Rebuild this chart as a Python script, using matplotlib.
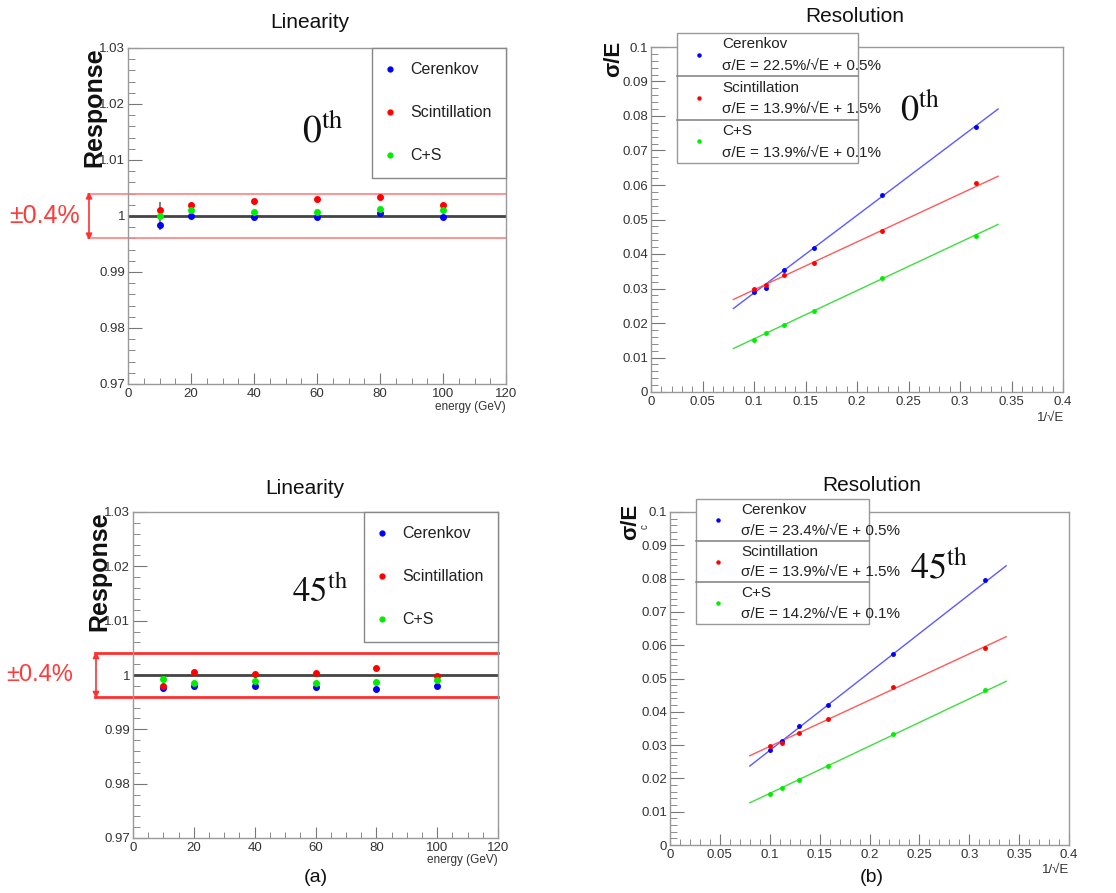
import matplotlib
matplotlib.use('Agg')
import matplotlib.pyplot as plt
from matplotlib.ticker import MultipleLocator
from matplotlib.patches import Rectangle
from matplotlib.lines import Line2D

plt.rcParams['font.family'] = ['Liberation Sans', 'DejaVu Sans']

W, H = 1116, 893

# ---- linearity data (response vs beam energy) ----
energy = [10, 20, 40, 60, 80, 100]
lin0_cer = [0.9984, 1.0000, 0.9999, 0.9999, 1.0005, 0.9998]
lin0_sci = [1.0010, 1.0020, 1.0026, 1.0030, 1.0034, 1.0020]
lin0_cs = [1.0000, 1.0010, 1.0008, 1.0007, 1.0012, 1.0010]
lin0_cs_err = [0.0025, 0.0003, 0.0002, 0.0002, 0.0002, 0.0002]
lin45_cer = [0.9976, 0.9980, 0.9980, 0.9978, 0.9974, 0.9980]
lin45_sci = [0.9980, 1.0006, 1.0001, 1.0004, 1.0012, 0.9998]
lin45_cs = [0.9992, 0.9986, 0.9989, 0.9986, 0.9987, 0.9990]
lin45_cer_err = [0.0008, 0.0002, 0.0002, 0.0002, 0.0002, 0.0002]

# ---- resolution data (sigma/E vs 1/sqrt(E)) ----
inv_sqrt_e = [0.100, 0.112, 0.129, 0.158, 0.224, 0.316]
res0_cer = [0.0290, 0.0302, 0.0353, 0.0418, 0.0570, 0.0768]
res0_sci = [0.0299, 0.0311, 0.0338, 0.0373, 0.0467, 0.0606]
res0_cs = [0.0152, 0.0171, 0.0195, 0.0235, 0.0329, 0.0453]
res45_cer = [0.0284, 0.0313, 0.0357, 0.0419, 0.0573, 0.0797]
res45_sci = [0.0297, 0.0305, 0.0336, 0.0379, 0.0474, 0.0593]
res45_cs = [0.0154, 0.0172, 0.0196, 0.0236, 0.0332, 0.0466]

fit_range = [0.08, 0.337]
fit0_stoch = [0.225, 0.139, 0.140]
fit0_const = [0.0062, 0.0157, 0.0014]
fit45_stoch = [0.234, 0.139, 0.142]
fit45_const = [0.0050, 0.0157, 0.0013]

names = ['Cerenkov', 'Scintillation', 'C+S']
formulas0 = ['σ/E = 22.5%/√E + 0.5%', 'σ/E = 13.9%/√E + 1.5%', 'σ/E = 13.9%/√E + 0.1%']
formulas45 = ['σ/E = 23.4%/√E + 0.5%', 'σ/E = 13.9%/√E + 1.5%', 'σ/E = 14.2%/√E + 0.1%']

mark_colors = ['#0000ff', '#ff0000', '#00ee00']
line_colors = ['#5a5aff', '#ff5a5a', '#40dd40']

fig = plt.figure(figsize=(W / 100, H / 100), dpi=100)


def fx(px):
    return px / W


def fy(py):
    return 1 - py / H


def add_ax(l, t, r, b):
    return fig.add_axes([l / W, 1 - b / H, (r - l) / W, (b - t) / H])


def root_style(ax):
    for s in ax.spines.values():
        s.set_color('#999999')
        s.set_linewidth(1)
    ax.tick_params(which='both', direction='in', top=False, right=False,
                   colors='#777777', labelcolor='#333333', labelsize=9.5)
    ax.tick_params(axis='y', which='major', length=10, pad=2)
    ax.tick_params(axis='y', which='minor', length=5)
    ax.tick_params(axis='x', which='major', length=8, pad=3)
    ax.tick_params(axis='x', which='minor', length=4)


def linearity(ax, cer, sci, cs, err_series, err, band_color, band_lw, arrow_x, text_x, text_size):
    root_style(ax)
    ax.set_xlim(0, 120)
    ax.set_ylim(0.97, 1.03)
    ax.xaxis.set_major_locator(MultipleLocator(20))
    ax.xaxis.set_minor_locator(MultipleLocator(5))
    ax.yaxis.set_major_locator(MultipleLocator(0.01))
    ax.yaxis.set_minor_locator(MultipleLocator(0.002))
    ax.set_yticklabels([f'{v:g}' for v in ax.get_yticks()])
    ax.set_xticklabels([f'{v:g}' for v in ax.get_xticks()])

    ax.axhline(1.0, color='#444444', lw=2, zorder=2)
    for yv in (1.004, 0.996):
        ax.axhline(yv, xmin=-0.105, xmax=1.0, color=band_color, lw=band_lw, clip_on=False, zorder=2)
    ax.annotate('', xy=(arrow_x, 1.0043), xytext=(arrow_x, 0.9957),
                xycoords=ax.get_yaxis_transform(), annotation_clip=False,
                arrowprops=dict(arrowstyle='<|-|>', color='#ff3030', lw=1.2,
                                mutation_scale=9, shrinkA=0, shrinkB=0))
    ax.text(text_x, 1.0, '±0.4%', color='#ff3a3a', fontsize=text_size,
            ha='center', va='center', transform=ax.get_yaxis_transform(), clip_on=False)

    series = [cer, sci, cs]
    handles = []
    for i, vals in enumerate(series):
        yerr = err if i == err_series else None
        ax.errorbar(energy, vals, yerr=yerr, fmt='o', ms=4, color=mark_colors[i],
                    ecolor='#666666', elinewidth=1.2, capsize=0, zorder=4)
        handles.append(Line2D([], [], ls='none', marker='o', ms=3.5, color=mark_colors[i]))
    leg = ax.legend(handles, names, loc='upper right', bbox_to_anchor=(1, 1),
                    borderaxespad=0, fontsize=11.5, labelspacing=1.75, borderpad=0.9,
                    handlelength=0.5, handletextpad=1.0, fancybox=False,
                    edgecolor='#888888', framealpha=1)
    leg.get_frame().set_linewidth(1)
    for t in leg.get_texts():
        t.set_color('#222222')
    return ax


def resolution(ax, cer, sci, cs, stoch, const):
    root_style(ax)
    ax.set_xlim(0, 0.4)
    ax.set_ylim(0, 0.1)
    ax.xaxis.set_major_locator(MultipleLocator(0.05))
    ax.xaxis.set_minor_locator(MultipleLocator(0.01))
    ax.yaxis.set_major_locator(MultipleLocator(0.01))
    ax.yaxis.set_minor_locator(MultipleLocator(0.002))
    ax.set_yticklabels([f'{v:g}' for v in ax.get_yticks()])
    ax.set_xticklabels([f'{v:g}' for v in ax.get_xticks()])
    for i, vals in enumerate([cer, sci, cs]):
        fit_y = [stoch[i] * x + const[i] for x in fit_range]
        ax.plot(fit_range, fit_y, color=line_colors[i], lw=1.0, zorder=3)
        ax.plot(inv_sqrt_e, vals, 'o', ms=2.5, color=mark_colors[i], zorder=4)


def res_legend(l, t, r, b, formulas):
    h = (b - t) / 3
    fig.add_artist(Rectangle((fx(l), fy(b)), (r - l) / W, (b - t) / H,
                             transform=fig.transFigure, facecolor='white',
                             edgecolor='#999999', lw=1, zorder=5))
    for k in (1, 2):
        fig.add_artist(Line2D([fx(l), fx(r)], [fy(t + k * h)] * 2,
                              transform=fig.transFigure, color='#888888', lw=1.2, zorder=6))
    for i in range(3):
        top = t + i * h
        fig.text(fx(l + 45), fy(top + 0.26 * h), names[i], fontsize=11, color='#222222',
                 ha='left', va='center', zorder=7)
        fig.text(fx(l + 45), fy(top + 0.76 * h), formulas[i], fontsize=11, color='#222222',
                 ha='left', va='center', zorder=7)
        fig.add_artist(Line2D([fx(l + 22)], [fy(top + 0.5 * h)], transform=fig.transFigure,
                              ls='none', marker='o', ms=2.2, color=mark_colors[i], zorder=7))


# ---- top left: linearity 0 ----
ax1 = add_ax(128, 48, 506, 384)
linearity(ax1, lin0_cer, lin0_sci, lin0_cs, 2, lin0_cs_err, '#ff8080', 1.2,
          (89 - 128) / 378, (45 - 128) / 378, 18)
ax1.text(0.46, 0.72, r'$0^{\rm th}$', transform=ax1.transAxes, fontsize=27,
         math_fontfamily='stix', ha='left', va='baseline', color='#111111')

# ---- top right: resolution 0 ----
ax2 = add_ax(651, 47, 1063, 392)
resolution(ax2, res0_cer, res0_sci, res0_cs, fit0_stoch, fit0_const)
fig.text(fx(900), fy(120), r'$0^{\rm th}$', fontsize=26, math_fontfamily='stix',
         ha='left', va='baseline', color='#111111')
res_legend(677, 33, 858, 163, formulas0)

# ---- bottom left: linearity 45 ----
ax3 = add_ax(133, 512, 498, 838)
linearity(ax3, lin45_cer, lin45_sci, lin45_cs, 0, lin45_cer_err, '#ff3030', 2.0,
          (96 - 133) / 365, (40 - 133) / 365, 17)
fig.text(fx(292), fy(602), r'$45^{\rm th}$', fontsize=25, math_fontfamily='stix',
         ha='left', va='baseline', color='#111111')

# ---- bottom right: resolution 45 ----
ax4 = add_ax(670, 512, 1069, 845)
resolution(ax4, res45_cer, res45_sci, res45_cs, fit45_stoch, fit45_const)
fig.text(fx(910), fy(577), r'$45^{\rm th}$', fontsize=26, math_fontfamily='stix',
         ha='left', va='baseline', color='#111111')
res_legend(696, 499, 869, 624, formulas45)

# ---- titles, axis titles, panel tags ----
for x, y, s in [(310, 22, 'Linearity'), (855, 16, 'Resolution'),
                (305, 489, 'Linearity'), (872, 486, 'Resolution')]:
    fig.text(fx(x), fy(y), s, fontsize=15, ha='center', va='center', color='#111111')

fig.text(fx(94), fy(107), 'Response', rotation=90, fontsize=18, fontweight='bold',
         ha='center', va='center', color='#111111')
fig.text(fx(99), fy(571), 'Response', rotation=90, fontsize=18, fontweight='bold',
         ha='center', va='center', color='#111111')
fig.text(fx(614), fy(59), 'σ/E', rotation=90, fontsize=16, fontweight='bold',
         ha='center', va='center', color='#111111')
fig.text(fx(631), fy(522), 'σ/E', rotation=90, fontsize=16, fontweight='bold',
         ha='center', va='center', color='#111111')
fig.text(fx(645), fy(527), 'c', rotation=90, fontsize=7, ha='center', va='center', color='#333333')

fig.text(fx(506), fy(407), 'energy (GeV)', fontsize=8.5, ha='right', va='center', color='#333333')
fig.text(fx(498), fy(860), 'energy (GeV)', fontsize=8.5, ha='right', va='center', color='#333333')
fig.text(fx(1064), fy(418), '1/√E', fontsize=9.5, ha='right', va='center', color='#333333')
fig.text(fx(1069), fy(870), '1/√E', fontsize=9.5, ha='right', va='center', color='#333333')

fig.text(fx(316), fy(877), '(a)', fontsize=14, ha='center', va='center', color='#111111')
fig.text(fx(872), fy(877), '(b)', fontsize=14, ha='center', va='center', color='#111111')

fig.savefig('out.png', dpi=100, facecolor='white')
